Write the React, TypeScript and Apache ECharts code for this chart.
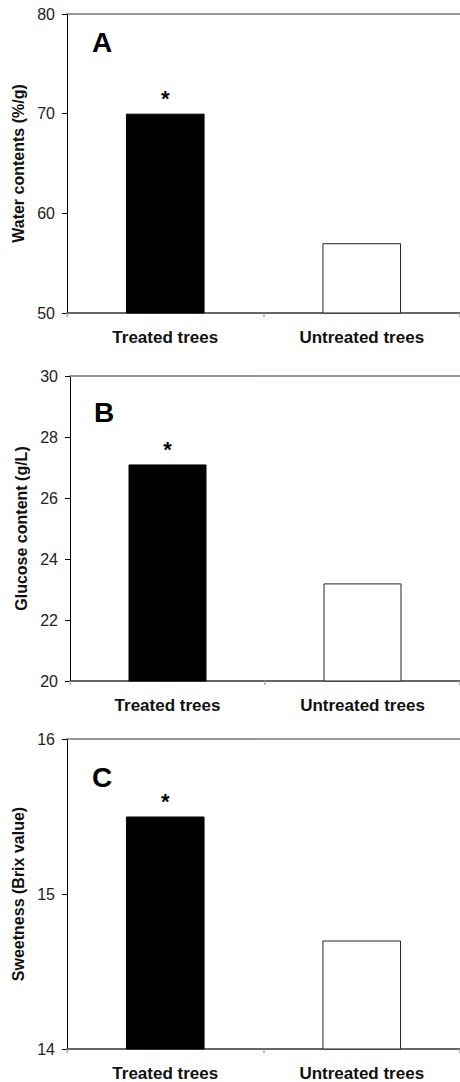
import React, { useEffect, useRef } from "react";
import * as echarts from "echarts";

const categories = ["Treated trees", "Untreated trees"];
const waterValues = [70, 57];
const glucoseValues = [27.1, 23.2];
const sweetnessValues = [15.5, 14.7];
const significance = ["*", ""];
const panelLetters = ["A", "B", "C"];
const yTitles = ["Water contents (%/g)", "Glucose content (g/L)", "Sweetness (Brix value)"];
const yMins = [50, 20, 14];
const yMaxs = [80, 30, 16];
const yIntervals = [10, 2, 1];

const seriesValues = [waterValues, glucoseValues, sweetnessValues];

const grids = [
  { left: 67, top: 14, width: 394, height: 299 },
  { left: 70, top: 376, width: 392, height: 305 },
  { left: 67, top: 739, width: 400, height: 311 },
];
const nameGaps = [39, 41, 38];
const letterPos = [
  { left: 92, top: 28 },
  { left: 94, top: 398 },
  { left: 92, top: 763 },
];

const FONT = "'Liberation Sans', Arial, sans-serif";

export default function App() {
  const ref = useRef<HTMLDivElement>(null);
  useEffect(() => {
    if (!ref.current) return;
    const chart = echarts.init(ref.current, null, { renderer: "svg" });
    const xAxis: any[] = [];
    const yAxis: any[] = [];
    const series: any[] = [];
    const title: any[] = [];
    grids.forEach((g, i) => {
      xAxis.push({
        type: "category",
        gridIndex: i,
        data: categories,
        boundaryGap: true,
        axisLine: { show: true, lineStyle: { color: "#333", width: 1.5 } },
        axisTick: { show: true, length: 4, lineStyle: { color: "#aaa", width: 1.5 } },
        axisLabel: {
          color: "#111",
          fontFamily: FONT,
          fontWeight: "bold",
          fontSize: 17,
          margin: 16,
        },
        splitLine: { show: false },
      });
      xAxis.push({
        type: "category",
        gridIndex: i,
        position: "top",
        data: categories,
        axisLine: { show: true, lineStyle: { color: "#777", width: 1.5 } },
        axisTick: { show: false },
        axisLabel: { show: false },
        splitLine: { show: false },
      });
      yAxis.push({
        type: "value",
        gridIndex: i,
        min: yMins[i],
        max: yMaxs[i],
        interval: yIntervals[i],
        name: yTitles[i],
        nameLocation: "middle",
        nameRotate: 90,
        nameGap: nameGaps[i],
        nameTextStyle: { color: "#111", fontFamily: FONT, fontWeight: "bold", fontSize: 16 },
        axisLine: { show: true, lineStyle: { color: "#000", width: 1 } },
        axisTick: { show: true, inside: false, length: 5, lineStyle: { color: "#000", width: 1 } },
        axisLabel: { color: "#222", fontFamily: FONT, fontSize: 16, margin: 12 },
        splitLine: { show: false },
      });
      series.push({
        type: "bar",
        xAxisIndex: i * 2,
        yAxisIndex: i,
        barWidth: "40%",
        data: seriesValues[i].map((v, j) => ({
          value: v,
          itemStyle:
            j === 0
              ? { color: "#000", borderColor: "#000", borderWidth: 1 }
              : { color: "#fff", borderColor: "#222", borderWidth: 1 },
        })),
        label: {
          show: true,
          position: "top",
          distance: 4,
          formatter: (p: any) => significance[p.dataIndex],
          color: "#000",
          fontFamily: FONT,
          fontWeight: "bold",
          fontSize: 22,
        },
      });
      title.push({
        text: panelLetters[i],
        left: letterPos[i].left,
        top: letterPos[i].top,
        padding: 0,
        textStyle: { color: "#000", fontFamily: FONT, fontWeight: "bold", fontSize: 28 },
      });
    });
    chart.setOption({
      animation: false,
      backgroundColor: "#fff",
      title,
      grid: grids.map((g) => ({ ...g, containLabel: false })),
      xAxis,
      yAxis,
      series,
    });
    return () => chart.dispose();
  }, []);
  return (
    <div
      ref={ref}
      style={{ position: "fixed", left: 0, top: 0, width: 460, height: 1082, background: "#fff" }}
    />
  );
}
